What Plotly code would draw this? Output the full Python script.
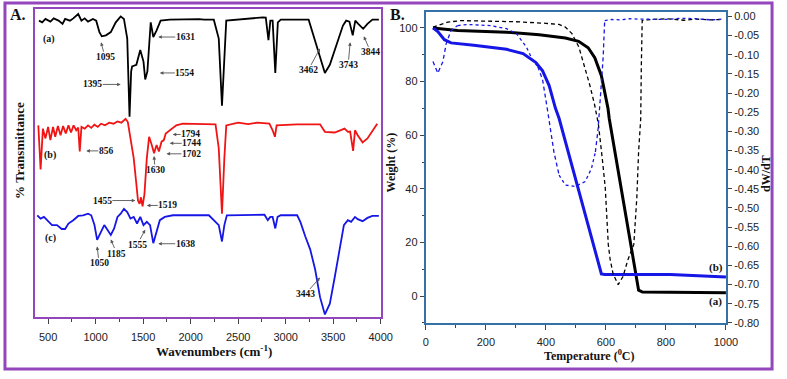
import plotly.graph_objects as go

# ---------------- Panel A : FTIR spectra ----------------
ftir_wn_a = [404, 438, 472, 524, 559, 610, 652, 679, 730, 765, 817, 851, 885, 920, 972, 1006, 1040, 1065, 1109, 1160,
             1212, 1264, 1298, 1333, 1343, 1357, 1374, 1384, 1429, 1470, 1504, 1522, 1545, 1580, 1607, 1642, 1684, 1780,
             2089, 2141, 2244, 2296, 2330, 2355, 2375, 2760, 2791, 2819, 2839, 2863, 2891, 2918, 2949, 3242, 3294, 3345,
             3413, 3465, 3534, 3603, 3637, 3671, 3706, 3733, 3764, 3816, 3861, 3913, 3981]
ftir_t_a = [302, 300.3, 303.7, 301, 304.3, 302, 298.7, 303.7, 302, 304.3, 308.7, 302, 304.3, 301, 303.7, 302, 290.3, 286,
            287, 290.3, 300.3, 306.3, 303.7, 283.7, 250.3, 204, 250.3, 255.3, 257, 272, 260.3, 242, 250.3, 300.3, 285.3,
            292, 302, 303, 303.5, 303, 303, 283.7, 215.3, 267, 302, 305.3, 305, 282, 302, 302, 248.7, 300.3, 303, 303,
            287, 270.3, 248.7, 257, 277, 297, 302, 301, 287, 302, 298.7, 293.7, 298.7, 303, 303]

ftir_wn_b = [397, 421, 445, 472, 500, 524, 552, 575, 603, 631, 658, 686, 714, 741, 768, 796, 817, 833, 851, 885, 920,
             954, 988, 1023, 1057, 1099, 1143, 1188, 1230, 1271, 1315, 1339, 1367, 1401, 1429, 1446, 1463, 1477, 1494,
             1514, 1539, 1563, 1591, 1615, 1642, 1666, 1694, 1718, 1738, 1762, 1797, 1849, 1917, 2055, 2141, 2262, 2296,
             2330, 2355, 2375, 2500, 2605, 2700, 2829, 2863, 2887, 2905, 3121, 3362, 3413, 3516, 3586, 3620, 3655, 3679,
             3710, 3730, 3758, 3810, 3861, 3913, 3964]
ftir_t_b = [195.3, 150.3, 192, 182, 193.7, 180.3, 193.7, 183.7, 194.7, 185.3, 194.7, 187, 195.3, 188, 195.3, 190.3, 193,
            168.7, 193.7, 192, 195.3, 192.7, 196, 193.7, 197, 195.3, 198, 197, 199.3, 198, 202, 198.7, 182, 162, 135.3,
            118.7, 115.3, 122, 112.7, 125.3, 162, 183.7, 175.3, 167, 175.3, 168.7, 178.7, 180.3, 187, 188.7, 192, 195.3,
            197, 197, 197, 196.3, 172, 105.3, 162, 195.3, 198, 196.5, 198, 197, 190.3, 183.7, 195.3, 196.3, 196.3, 188.7,
            188, 190.3, 192, 188.7, 189, 169.3, 190.3, 185.3, 178, 182, 190.3, 197]

ftir_wn_c = [386, 421, 456, 507, 541, 593, 644, 679, 714, 765, 817, 868, 920, 954, 988, 1016, 1050, 1091, 1126, 1160,
             1195, 1230, 1264, 1298, 1333, 1367, 1401, 1436, 1470, 1504, 1539, 1573, 1607, 1642, 1676, 1728, 1814, 2192,
             2296, 2330, 2355, 2381, 2777, 2812, 2839, 2863, 2891, 2915, 2949, 3121, 3155, 3207, 3259, 3310, 3362, 3413,
             3465, 3516, 3568, 3613, 3655, 3689, 3730, 3758, 3810, 3861, 3913, 3981]
ftir_t_c = [103.7, 100.3, 102, 97, 93.7, 93.7, 89.7, 89.7, 95.3, 98.7, 103, 103.7, 105.3, 103.7, 93.7, 78.7, 85.3, 93.7,
            88.7, 83.7, 90.3, 102, 105.3, 110.3, 107, 100.3, 102, 95.3, 102, 93.7, 97, 93.7, 75.3, 87, 98.7, 102, 103.7,
            103.7, 93.7, 77, 93.7, 103.7, 104.3, 98.7, 102, 102, 90.3, 102, 103.7, 103.7, 97, 82, 68.7, 48.7, 20.3, 2.7,
            13.7, 40.3, 70.3, 93.7, 98.7, 97, 102, 99.7, 97.7, 101, 103, 103]

# peak labels: (text, wavenumber, transmittance at arrow tip)
peak_labels = [
    ("1095", 1057, 280), ("1395", 1264, 237), ("1554", 1676, 248.7), ("1631", 1659, 285.3),
    ("3462", 3362, 273.7), ("3743", 3679, 280), ("3844", 3823, 286),
    ("856", 902, 169.3), ("1794", 1811, 186), ("1744", 1780, 177), ("1702", 1746, 166.3),
    ("1630", 1615, 164), ("1455", 1418, 118.7), ("1519", 1539, 113.7),
    ("1050", 1016, 72), ("1185", 1160, 79), ("1555", 1522, 89), ("1638", 1659, 74.7), ("3443", 3362, 40.3),
]
# text offsets (pixels) of each label relative to its arrow tip
label_offsets = [
    (4, 15), (-28, 0), (25, 0), (27, 0),
    (-12, 22), (-2, 23), (7, 16),
    (20, 0), (18, 0), (22, 0), (25, 0),
    (1, 14), (-33, 0), (21, 0),
    (2, 17), (6, 14), (-8, 15), (27, 0), (-15, 17),
]
curve_tags = [("(a)", 507, 283.7), ("(b)", 524, 165.3), ("(c)", 524, 81)]

# ---------------- Panel B : TGA / DTG ----------------
tga_temp_a = [24, 106, 269, 378, 465, 509, 541, 563, 585, 607, 611, 660, 709, 722, 1000]
tga_wt_a = [100, 99, 98.4, 97.4, 96.2, 95, 92.6, 88.9, 82.2, 70, 66.3, 34.3, 2.2, 1.5, 1.3]
tga_temp_b = [24, 40, 62, 84, 160, 269, 324, 367, 389, 411, 432, 444, 585, 596, 814, 1000]
tga_wt_b = [100, 98.6, 95.6, 94.4, 93.5, 92, 90.4, 87.1, 84, 78.5, 70, 66.3, 8.3, 8.1, 8.1, 7.1]

dtg_temp_a = [24, 50, 73, 117, 200, 300, 400, 444, 465, 487, 510, 529, 546, 562, 575, 588, 598, 608, 614, 624, 641,
              657, 673, 693, 703, 709, 716, 718, 721, 738, 800, 860, 900, 950, 988]
dtg_a = [-0.028, -0.020, -0.015, -0.011, -0.012, -0.014, -0.018, -0.021, -0.028, -0.045, -0.080, -0.132, -0.178,
         -0.229, -0.281, -0.371, -0.448, -0.595, -0.633, -0.672, -0.700, -0.679, -0.636, -0.595, -0.474, -0.353,
         -0.268, -0.132, -0.011, -0.009, -0.006, -0.010, -0.007, -0.009, -0.008]
dtg_temp_b = [24, 40, 57, 68, 84, 106, 139, 215, 269, 302, 335, 356, 373, 389, 405, 416, 427, 444, 465, 498, 531, 552,
              565, 574, 585, 591, 596, 620, 650, 680, 705, 750, 800, 850, 900, 950, 988]
dtg_b = [-0.118, -0.148, -0.118, -0.071, -0.037, -0.024, -0.021, -0.024, -0.032, -0.045, -0.080, -0.114, -0.131,
         -0.165, -0.242, -0.294, -0.354, -0.414, -0.440, -0.444, -0.431, -0.397, -0.354, -0.294, -0.174, -0.105,
         -0.011, -0.008, -0.009, -0.006, -0.007, -0.008, -0.008, -0.005, -0.006, -0.009, -0.007]

dtg_tickvals = [0.00, -0.05, -0.10, -0.15, -0.20, -0.25, -0.30, -0.35, -0.40, -0.45, -0.50, -0.55, -0.60, -0.65,
                -0.70, -0.75, -0.80]
dtg_ticktext = ["0.00", "-0.05", "-0.10", "-0.15", "-0.20", "-0.25", "-0.30", "-0.35", "-0.40", "-0.45", "-0.50",
                "-0.55", "-0.60", "-0.65", "-0.70", "-0.75", "-0.80"]

# ---------------- styling ----------------
W, H = 787, 379
PURPLE = "#9446BC"
STEEL = "#3570A6"
BLUE = "#1616E6"
RED = "#F01414"
SERIF = "Liberation Serif"
SANS = "Liberation Sans"

fig = go.Figure()

# FTIR traces
for xs, ys, col in [(ftir_wn_a, ftir_t_a, "black"), (ftir_wn_b, ftir_t_b, RED), (ftir_wn_c, ftir_t_c, BLUE)]:
    fig.add_trace(go.Scatter(x=xs, y=ys, mode="lines", line=dict(color=col, width=1.8),
                             xaxis="x", yaxis="y", showlegend=False, hoverinfo="skip"))

# TGA traces
fig.add_trace(go.Scatter(x=tga_temp_a, y=tga_wt_a, mode="lines", line=dict(color="black", width=3),
                         xaxis="x2", yaxis="y2", showlegend=False))
fig.add_trace(go.Scatter(x=tga_temp_b, y=tga_wt_b, mode="lines", line=dict(color=BLUE, width=3),
                         xaxis="x2", yaxis="y2", showlegend=False))

# DTG traces
fig.add_trace(go.Scatter(x=dtg_temp_a, y=dtg_a, mode="lines", line=dict(color="black", width=1.3, dash="4px,3px"),
                         xaxis="x2", yaxis="y3", showlegend=False))
segments_b = [(24, 106, "4px,3px"), (106, 373, "dot"), (373, 444, "4px,3px"),
              (444, 565, "dot"), (565, 596, "4px,3px"), (596, 1000, "dot")]
for t0, t1, dsh in segments_b:
    xs = [t for t in dtg_temp_b if t0 <= t <= t1]
    ys = [d for t, d in zip(dtg_temp_b, dtg_b) if t0 <= t <= t1]
    fig.add_trace(go.Scatter(x=xs, y=ys, mode="lines", line=dict(color=BLUE, width=1.3, dash=dsh),
                             xaxis="x2", yaxis="y3", showlegend=False))

tickfont = dict(family=SANS, size=11, color="#222")

fig.update_layout(
    width=W, height=H, margin=dict(l=0, r=0, t=0, b=0), autosize=False,
    paper_bgcolor="white", plot_bgcolor="white", showlegend=False,
    xaxis=dict(domain=[33 / W, 385 / W], range=[366, 4000], anchor="y",
               tick0=500, dtick=500, ticks="outside", ticklen=5, tickcolor="#444", ticklabelstandoff=4,
               minor=dict(ticks="outside", ticklen=3, dtick=250, tick0=0, tickcolor="#444"),
               showline=True, linecolor=PURPLE, linewidth=2, mirror=True,
               showgrid=False, zeroline=False, tickfont=tickfont),
    yaxis=dict(domain=[57 / H, 371 / H], range=[0, 314], anchor="x",
               showline=True, linecolor=PURPLE, linewidth=2, mirror=True,
               showticklabels=False, ticks="", showgrid=False, zeroline=False),
    xaxis2=dict(domain=[431 / W, 737 / W], range=[0, 1000], anchor="y2",
                tick0=0, dtick=200, ticks="outside", ticklen=5, tickcolor="#444", ticklabelstandoff=3,
                minor=dict(ticks="outside", ticklen=3, dtick=100, tickcolor="#444"),
                showline=True, linecolor=STEEL, linewidth=2, mirror=True,
                showgrid=False, zeroline=False, tickfont=tickfont),
    yaxis2=dict(domain=[51 / H, 368 / H], range=[-10, 106], anchor="x2",
                tick0=0, dtick=20, ticks="outside", ticklen=4, tickcolor="#444",
                minor=dict(ticks="outside", ticklen=2, dtick=10, tickcolor="#444"),
                showline=True, linecolor=STEEL, linewidth=2, mirror=True,
                showgrid=False, zeroline=False, tickfont=tickfont),
    yaxis3=dict(range=[-0.8, 0.012], overlaying="y2", side="right", anchor="x2",
                tickvals=dtg_tickvals, ticktext=dtg_ticktext, ticks="outside", ticklen=4, tickcolor="#444",
                showline=True, linecolor=STEEL, linewidth=2,
                showgrid=False, zeroline=False, tickfont=tickfont),
)

ann = []
for (txt, xv, yv), (dx, dy) in zip(peak_labels, label_offsets):
    ann.append(dict(text="<b>%s</b>" % txt, x=xv, y=yv, xref="x", yref="y", ax=dx, ay=dy,
                    showarrow=True, arrowhead=2, arrowsize=0.8, arrowwidth=0.9, arrowcolor="#555",
                    standoff=0, borderpad=0, font=dict(family=SERIF, size=9.5, color="#111")))
for txt, xv, yv in curve_tags:
    ann.append(dict(text="<b>%s</b>" % txt, x=xv, y=yv, xref="x", yref="y", showarrow=False,
                    font=dict(family=SERIF, size=10, color="#111")))
ann.append(dict(text="<b>(b)</b>", x=966, y=10.7, xref="x2", yref="y2", showarrow=False,
                font=dict(family=SERIF, size=11, color="#111")))
ann.append(dict(text="<b>(a)</b>", x=966, y=-2.1, xref="x2", yref="y2", showarrow=False,
                font=dict(family=SERIF, size=11, color="#111")))


def pann(txt, px, py, size, angle=0):
    return dict(text=txt, x=px / W, y=1 - py / H, xref="paper", yref="paper", showarrow=False,
                textangle=angle, xanchor="center", yanchor="middle",
                font=dict(family=SERIF, size=size, color="#111"))


ann += [
    pann("<b>A.</b>", 15, 14, 16),
    pann("<b>B.</b>", 402, 14, 16),
    pann("<b>% Transmittance</b>", 16, 152, 13, -90),
    pann("<b>Wavenumbers (cm<sup>-1</sup>)</b>", 215, 357, 13),
    pann("<b>Weight (%)</b>", 396, 164, 12, -90),
    pann("<b>Temperature (<sup>0</sup>C)</b>", 598, 361, 12),
    pann("<b>dW/dT</b>", 778, 176, 12, -90),
]
fig.update_layout(annotations=ann)

fig.add_shape(type="rect", xref="paper", yref="paper",
              x0=2 / W, x1=784 / W, y0=1 - 375 / H, y1=1 - 2 / H,
              line=dict(color=PURPLE, width=3), fillcolor="rgba(0,0,0,0)")

fig.write_html(
    "out.html",
    config={"displayModeBar": False},
    post_script=("document.documentElement.style.margin='0px';document.body.style.margin='0px';"
                 "document.documentElement.style.overflow='hidden';document.body.style.overflow='hidden';"),
)
